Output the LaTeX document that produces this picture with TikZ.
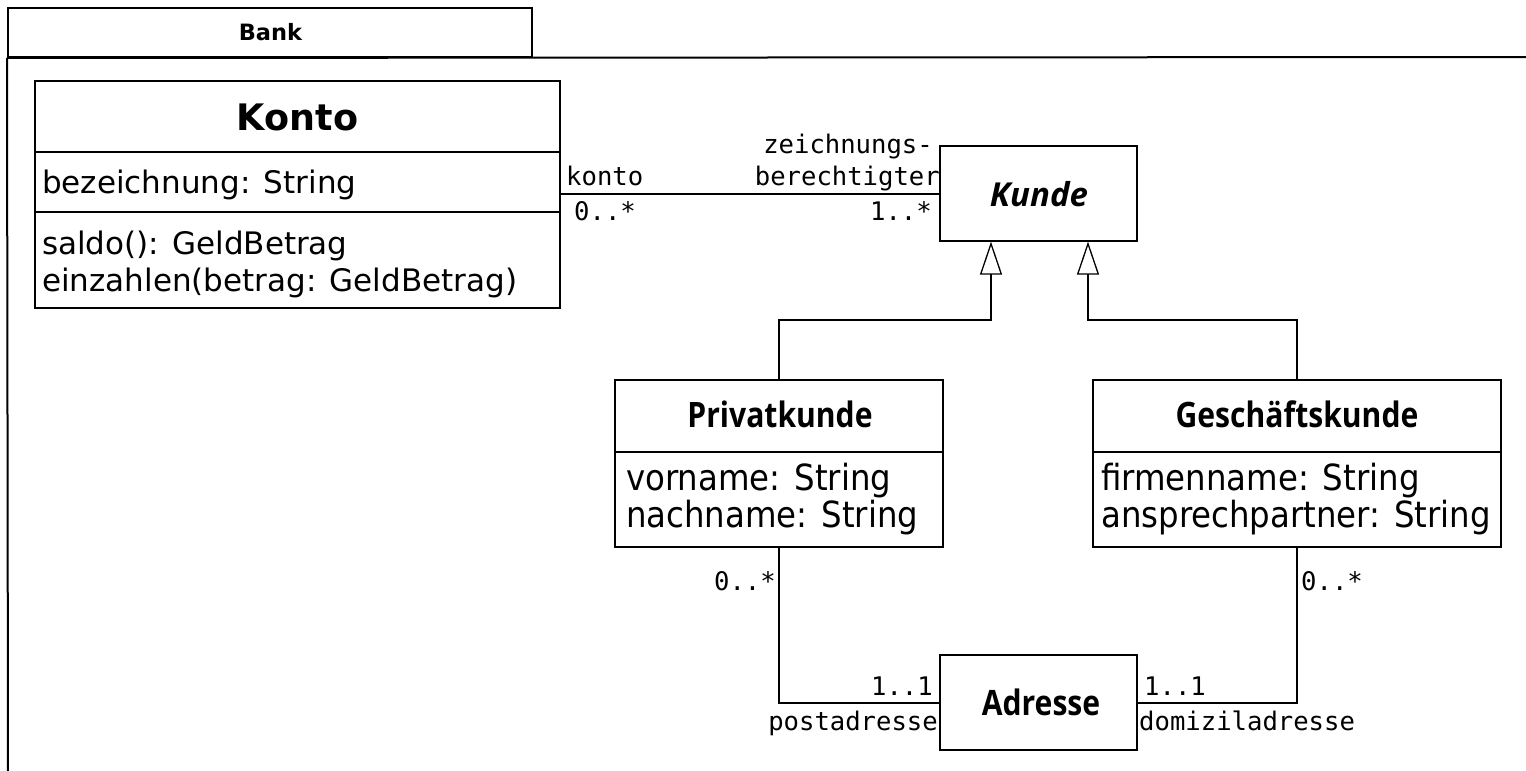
\documentclass[tikz,border=0pt]{standalone}
\usepackage{fontspec}
\setmainfont{DejaVu Sans}
\newfontfamily\monofont{DejaVu Sans Mono}
\newfontfamily\titlefont{Open Sans}[FakeStretch=0.86]
\newfontfamily\abstractfont{Open Sans}
\newfontfamily\narrowattrfont{DejaVu Sans}[FakeStretch=0.9]
\usetikzlibrary{arrows.meta}

\tikzset{
  umlbox/.style={draw, line width=1.3pt, inner sep=0pt, fill=white},
  frameline/.style={line width=2pt},
  assoc/.style={line width=1.3pt},
  gen/.style={line width=1.3pt, -{Triangle[open, length=33pt, width=22pt, line width=1.3pt]}},
  lbl/.style={inner sep=0pt, font=\monofont\fontsize{25.6}{30}\selectfont},
  attr/.style={inner sep=0pt, anchor=base west, font=\fontsize{31}{37}\selectfont},
  nattr/.style={inner sep=0pt, anchor=base west, font=\narrowattrfont\fontsize{36}{40}\selectfont},
  ctitle/.style={inner sep=0pt, anchor=base, font=\titlefont\bfseries\fontsize{35}{40}\selectfont},
}

\begin{document}
\begin{tikzpicture}[x=1pt, y=-1pt]
\useasboundingbox (0,0) rectangle (1526,771);

% package frame with tab
\node[draw, frameline, minimum width=524, minimum height=49, inner sep=0pt] (bank) at (270,32.5) {};
\node[inner sep=0pt, anchor=base, font=\bfseries\fontsize{22.5}{26}\selectfont] (bankname) at (270.5,40) {Bank};
\draw[frameline] (bank.south west) -- (1526,57);
\draw[frameline] (bank.south west) -- (8,771);

% Konto
\node[umlbox, minimum width=525, minimum height=227] (konto) at (297.5,194.5) {};
\draw[assoc] (konto.west |- 0,152) -- (konto.east |- 0,152);
\draw[assoc] (konto.west |- 0,212) -- (konto.east |- 0,212);
\node[inner sep=0pt, anchor=base, font=\bfseries\fontsize{36.5}{40}\selectfont] (kontoname) at (297.5,130) {Konto};
\node[attr] (kontoattr) at (42,193) {bezeichnung: String};
\node[attr] (kontoop1) at (42,254) {saldo(): GeldBetrag};
\node[attr] (kontoop2) at (42,291) {einzahlen(betrag: GeldBetrag)};

% Kunde (abstract)
\node[umlbox, minimum width=197, minimum height=95] (kunde) at (1038.5,193.5) {};
\node[inner sep=0pt, anchor=base, font=\abstractfont\bfseries\itshape\fontsize{33}{38}\selectfont] (kundename) at (1039,206) {Kunde};

% Privatkunde
\node[umlbox, minimum width=328, minimum height=167] (privat) at (779,463.5) {};
\draw[assoc] (privat.west |- 0,452) -- (privat.east |- 0,452);
\node[ctitle] (privatname) at (780,427) {Privatkunde};
\node[nattr] (privata1) at (626,490) {vorname: String};
\node[nattr] (privata2) at (626,527) {nachname: String};

% Geschaeftskunde
\node[umlbox, minimum width=408, minimum height=167] (geschaeft) at (1297,463.5) {};
\draw[assoc] (geschaeft.west |- 0,452) -- (geschaeft.east |- 0,452);
\node[ctitle] (geschaeftname) at (1297,427) {Geschäftskunde};
\node[nattr] (geschaefta1) at (1101,490) {firmenname: String};
\node[nattr] (geschaefta2) at (1101,527) {ansprechpartner: String};

% Adresse
\node[umlbox, minimum width=197, minimum height=95] (adresse) at (1038.5,702.5) {};
\node[ctitle] (adressename) at (1041,715) {Adresse};

% association Konto -- Kunde
\draw[assoc] (konto.east |- 0,194) -- (kunde.west |- 0,194);
\node[lbl, anchor=base west] (lkonto) at (566,185) {konto};
\node[lbl, anchor=base west] (mkonto) at (574,220) {0..*};
\node[lbl, anchor=base east] (lzb1) at (933,153) {zeichnungs-};
\node[lbl, anchor=base east] (lzb2) at (940,185) {berechtigter};
\node[lbl, anchor=base east] (mzb) at (932,220) {1..*};

% generalizations
\coordinate (kgen1) at ([xshift=-47.5pt]kunde.south);
\coordinate (kgen2) at ([xshift=49.5pt]kunde.south);
\draw[gen] (privat.north) -- (privat.north |- 0,320) -| (kgen1);
\draw[gen] (geschaeft.north) -- (geschaeft.north |- 0,320) -| (kgen2);

% associations to Adresse
\draw[assoc] (privat.south) |- (adresse.west |- 0,703);
\draw[assoc] (geschaeft.south) |- (adresse.east |- 0,703);
\node[lbl, anchor=base east] (mpriv) at (776,590) {0..*};
\node[lbl, anchor=base west] (mgesch) at (1301,590) {0..*};
\node[lbl, anchor=base east] (mpost) at (933,695) {1..1};
\node[lbl, anchor=base east] (lpost) at (938,730) {postadresse};
\node[lbl, anchor=base west] (mdom) at (1144,695) {1..1};
\node[lbl, anchor=base west] (ldom) at (1139,730) {domiziladresse};
\end{tikzpicture}
\end{document}
